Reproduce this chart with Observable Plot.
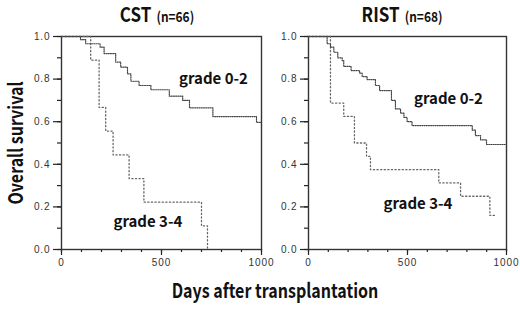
<!DOCTYPE html>
<html>
<head>
<meta charset="utf-8">
<script src="https://cdn.jsdelivr.net/npm/d3@7"></script>
<script src="https://cdn.jsdelivr.net/npm/@observablehq/plot@0.6"></script>
<style>
  html, body { margin: 0; padding: 0; background: #fff; }
  #chart { position: relative; width: 520px; height: 310px; font-family: "Noto Sans CJK JP", "Noto Sans", sans-serif; color: #111; }
  #chart .panel { position: absolute; top: 0; }
  #chart .title { position: absolute; top: -1px; font-weight: 700; font-size: 20px; white-space: nowrap; transform: translateX(-50%) scaleX(0.85); }
  #chart .title small { font-size: 14px; margin-left: 6px; }
  #chart .ytitle { position: absolute; left: 14px; top: 143px; font-weight: 700; font-size: 20px; white-space: nowrap; transform: translate(-50%, -50%) rotate(-90deg) scaleX(0.8); }
  #chart .xtitle { position: absolute; left: 275px; top: 275px; font-weight: 700; font-size: 20px; white-space: nowrap; transform: translateX(-50%) scaleX(0.8); }
  svg [aria-label$="tick label"] text { letter-spacing: 0.9px; }
</style>
</head>
<body>
<div id="chart">
  <div class="ytitle">Overall survival</div>
  <div class="xtitle">Days after transplantation</div>
  <div class="title" style="left:157px">CST<small>(n=66)</small></div>
  <div class="title" style="left:402px">RIST<small>(n=68)</small></div>
</div>
<script>
// ---- data ----
const xMinorTicks = [0,100,200,300,400,500,600,700,800,900,1000];
const xMajorTicks = [0,500,1000];
const yMinorTicks = [0,0.1,0.2,0.3,0.4,0.5,0.6,0.7,0.8,0.9,1.0];
const yMajorTicks = [0,0.2,0.4,0.6,0.8,1.0];

const cstLowDays = [0,95,121,193,213,271,296,330,347,388,447,539,606,640,757,975,1000];
const cstLowSurv = [1.0,0.985,0.966,0.95,0.92,0.88,0.856,0.825,0.79,0.77,0.75,0.72,0.70,0.665,0.624,0.597,0.597];

const cstHighDays = [0,146,188,221,258,338,412,700,730];
const cstHighSurv = [1.0,0.889,0.667,0.556,0.444,0.333,0.222,0.111,0.0];

const ristLowDays = [0,94,111,128,148,170,178,215,258,271,296,338,359,419,439,465,482,498,523,827,843,869,899,1000];
const ristLowSurv = [1.0,0.966,0.95,0.926,0.90,0.887,0.86,0.84,0.828,0.812,0.798,0.77,0.746,0.70,0.66,0.64,0.62,0.60,0.582,0.56,0.535,0.515,0.493,0.493];

const ristHighDays = [0,111,178,232,293,313,658,768,916,944];
const ristHighSurv = [1.0,0.6875,0.625,0.5,0.4375,0.375,0.3125,0.25,0.16,0.16];

const groupLabels = ["grade 0-2", "grade 3-4"];
const cstLabelDays = [760, 432];
const cstLabelSurv = [0.80, 0.13];
const ristLabelDays = [707, 553];
const ristLabelSurv = [0.707, 0.214];

const toRows = (days, surv) => days.map((d, i) => ({day: d, surv: surv[i]}));
const labelRows = (days, surv) => groupLabels.map((t, i) => ({text: t, day: days[i], surv: surv[i]}));

function panel({low, high, labels, width, marginLeft, marginRight}) {
  return Plot.plot({
    width, height: 270,
    marginLeft, marginRight, marginTop: 36, marginBottom: 21,
    style: {background: "none", overflow: "visible", fontFamily: "'Liberation Sans', Arial, sans-serif", fontSize: "10px", color: "#222"},
    x: {domain: [0, 1000]},
    y: {domain: [0, 1]},
    marks: [
      Plot.axisX({ticks: xMinorTicks, tickSize: 3, tickFormat: () => "", stroke: "#222", strokeWidth: 1.2, label: null}),
      Plot.axisX({ticks: xMajorTicks, tickSize: 6, tickPadding: 3, tickFormat: d => String(d), stroke: "#222", strokeWidth: 1.2, fill: "#333", label: null}),
      Plot.axisY({ticks: yMinorTicks, tickSize: 4, tickFormat: () => "", stroke: "#222", strokeWidth: 1.2, label: null}),
      Plot.axisY({ticks: yMajorTicks, tickSize: 8, tickPadding: 3, tickFormat: d3.format(".1f"), stroke: "#222", strokeWidth: 1.2, fill: "#333", label: null}),
      Plot.frame({stroke: "#333", strokeWidth: 1.4}),
      Plot.line(high, {x: "day", y: "surv", curve: "step-after", stroke: "#666", strokeWidth: 1.3, strokeDasharray: "1.2,2.4"}),
      Plot.line(low, {x: "day", y: "surv", curve: "step-after", stroke: "#444", strokeWidth: 1.2, strokeDasharray: "1,1.2"}),
      Plot.text(labels, {x: "day", y: "surv", text: "text", fontSize: 15, fontWeight: 700, fill: "#111", fontFamily: "'Noto Sans CJK JP', 'Noto Sans', sans-serif"})
    ]
  });
}

const left = panel({
  low: toRows(cstLowDays, cstLowSurv),
  high: toRows(cstHighDays, cstHighSurv),
  labels: labelRows(cstLabelDays, cstLabelSurv),
  width: 285, marginLeft: 61, marginRight: 24
});
const right = panel({
  low: toRows(ristLowDays, ristLowSurv),
  high: toRows(ristHighDays, ristHighSurv),
  labels: labelRows(ristLabelDays, ristLabelSurv),
  width: 260, marginLeft: 48, marginRight: 14
});
left.classList.add("panel"); left.style.left = "0px";
right.classList.add("panel"); right.style.left = "260px";
const chart = document.getElementById("chart");
chart.appendChild(left);
chart.appendChild(right);
</script>
</body>
</html>
